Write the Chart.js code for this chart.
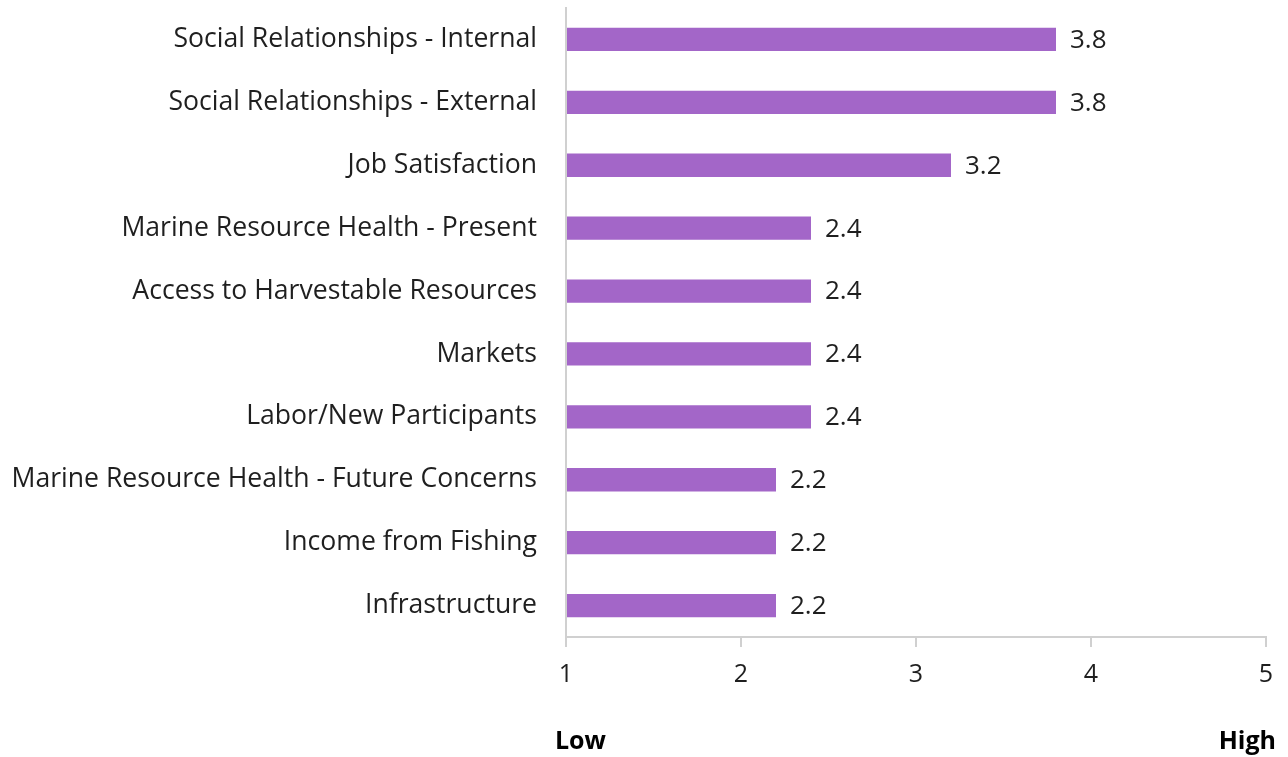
<!DOCTYPE html>
<html>
<head>
<meta charset="utf-8">
<script src="https://cdn.jsdelivr.net/npm/chart.js@4.4.1/dist/chart.umd.min.js"></script>
<style>
  html, body { margin: 0; padding: 0; background: #ffffff; }
  #wrap { width: 1288px; height: 757px; position: relative; }
</style>
</head>
<body>
<div id="wrap"><canvas id="c"></canvas></div>
<script>
const categories = [
  "Social Relationships - Internal",
  "Social Relationships - External",
  "Job Satisfaction",
  "Marine Resource Health - Present",
  "Access to Harvestable Resources",
  "Markets",
  "Labor/New Participants",
  "Marine Resource Health - Future Concerns",
  "Income from Fishing",
  "Infrastructure"
];
const scores = [3.8, 3.8, 3.2, 2.4, 2.4, 2.4, 2.4, 2.2, 2.2, 2.2];
const xTicks = [1, 2, 3, 4, 5];
const endLabels = ["Low", "High"];

const FONT = "'Open Sans', sans-serif";
const TEXT = '#1f1f1f';
const AXIS = '#d0d0d0';

const valueLabels = {
  id: 'valueLabels',
  afterDatasetsDraw(chart) {
    const ctx = chart.ctx;
    const meta = chart.getDatasetMeta(0);
    ctx.save();
    ctx.font = '26px ' + FONT;
    ctx.fillStyle = TEXT;
    ctx.textAlign = 'left';
    ctx.textBaseline = 'middle';
    meta.data.forEach((bar, i) => {
      ctx.fillText(scores[i].toFixed(1), bar.x + 14, bar.y + 1);
    });
    ctx.restore();
  }
};

const lowHigh = {
  id: 'lowHigh',
  afterDraw(chart) {
    const ctx = chart.ctx;
    const xs = chart.scales.x;
    ctx.save();
    ctx.font = 'bold 25px ' + FONT;
    ctx.fillStyle = '#000000';
    ctx.textBaseline = 'middle';
    ctx.textAlign = 'left';
    ctx.fillText(endLabels[0], xs.getPixelForValue(xTicks[0]) - 11, 742);
    ctx.textAlign = 'right';
    ctx.fillText(endLabels[1], xs.getPixelForValue(xTicks[xTicks.length - 1]) + 10, 742);
    ctx.restore();
  }
};

new Chart(document.getElementById('c'), {
  type: 'bar',
  data: {
    labels: categories,
    datasets: [{
      data: scores,
      base: 1,
      backgroundColor: '#a366c8',
      borderWidth: 0,
      categoryPercentage: 1,
      barPercentage: 0.37
    }]
  },
  options: {
    indexAxis: 'y',
    responsive: true,
    maintainAspectRatio: false,
    animation: false,
    devicePixelRatio: 1,
    layout: { padding: { top: 8, right: 22, bottom: 0, left: 0 } },
    plugins: { legend: { display: false }, tooltip: { enabled: false } },
    scales: {
      x: {
        type: 'linear',
        min: 1, max: 5,
        afterBuildTicks(scale) { scale.ticks = xTicks.map(v => ({ value: v })); },
        afterFit(scale) { scale.height = 120; },
        grid: { display: true, drawOnChartArea: false, drawTicks: true, tickLength: 10, color: AXIS, lineWidth: 2 },
        border: { display: true, color: AXIS, width: 2 },
        ticks: { font: { family: FONT, size: 25 }, color: TEXT, padding: 13 }
      },
      y: {
        afterFit(scale) { scale.width = 566; scale.paddingTop = 0; scale.paddingBottom = 0; },
        grid: { display: false, drawTicks: false },
        border: { display: true, color: AXIS, width: 2 },
        ticks: { font: { family: FONT, size: 26.6 }, color: TEXT, padding: 29, autoSkip: false }
      }
    }
  },
  plugins: [valueLabels, lowHigh]
});
</script>
</body>
</html>
